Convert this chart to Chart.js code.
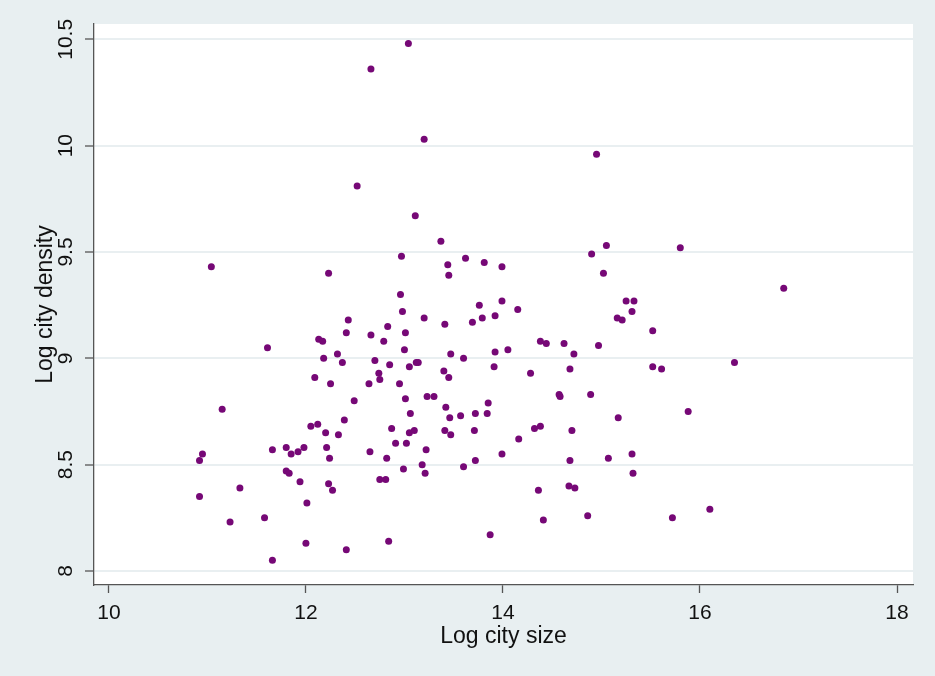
<!DOCTYPE html>
<html>
<head>
<meta charset="utf-8">
<script src="https://cdn.jsdelivr.net/npm/chart.js@4.4.1/dist/chart.umd.min.js"></script>
<style>
  html, body { margin: 0; padding: 0; background: #e8eff1; }
  #wrap { width: 935px; height: 676px; }
</style>
</head>
<body>
<div id="wrap"><canvas id="scatter" width="935" height="676"></canvas></div>
<script>
// log city size (x) and log city density (y)
const citySize = [
  13.04, 12.66, 13.20, 12.52, 13.11, 11.04, 12.23, 12.43, 12.41, 12.66,
  12.13, 12.17, 11.61, 12.18, 12.32, 12.37, 12.70, 12.74, 12.75, 12.09,
  12.25, 12.64, 12.49, 11.15, 12.39, 12.05, 12.12, 12.20, 12.33, 11.66,
  11.80, 11.85, 11.92, 11.98, 12.21, 12.24, 12.65, 10.95, 10.92, 11.80,
  11.83, 11.94, 12.23, 12.27, 12.75, 12.81, 10.92, 11.33, 12.01, 11.23,
  11.58, 12.00, 12.41, 11.66, 13.37, 12.97, 13.44, 13.62, 13.81, 13.99,
  13.45, 12.96, 13.76, 13.99, 14.15, 12.98, 13.20, 13.79, 13.92, 13.69,
  13.41, 12.83, 13.01, 12.79, 13.00, 13.47, 13.60, 13.92, 14.05, 14.38,
  14.44, 14.62, 14.72, 14.68, 14.28, 13.91, 13.40, 13.45, 12.85, 13.05,
  13.12, 13.14, 12.95, 13.01, 13.06, 13.23, 13.30, 13.42, 13.46, 13.57,
  13.72, 13.85, 13.84, 14.57, 14.58, 12.87, 13.05, 13.10, 13.41, 13.47,
  13.71, 14.32, 14.38, 14.70, 12.91, 13.02, 13.22, 14.16, 12.82, 13.99,
  13.72, 14.68, 12.99, 13.18, 13.21, 13.60, 14.36, 14.67, 14.73, 14.41,
  13.87, 12.84, 14.95, 15.05, 14.90, 15.80, 15.02, 16.85, 15.25, 15.33,
  15.31, 15.16, 15.21, 15.52, 14.97, 16.35, 15.52, 15.61, 14.89, 15.88,
  15.17, 15.07, 15.31, 15.32, 14.86, 15.72, 16.10
];
const cityDensity = [
  10.48, 10.36, 10.03, 9.81, 9.67, 9.43, 9.40, 9.18, 9.12, 9.11,
  9.09, 9.08, 9.05, 9.00, 9.02, 8.98, 8.99, 8.93, 8.90, 8.91,
  8.88, 8.88, 8.80, 8.76, 8.71, 8.68, 8.69, 8.65, 8.64, 8.57,
  8.58, 8.55, 8.56, 8.58, 8.58, 8.53, 8.56, 8.55, 8.52, 8.47,
  8.46, 8.42, 8.41, 8.38, 8.43, 8.43, 8.35, 8.39, 8.32, 8.23,
  8.25, 8.13, 8.10, 8.05, 9.55, 9.48, 9.44, 9.47, 9.45, 9.43,
  9.39, 9.30, 9.25, 9.27, 9.23, 9.22, 9.19, 9.19, 9.20, 9.17,
  9.16, 9.15, 9.12, 9.08, 9.04, 9.02, 9.00, 9.03, 9.04, 9.08,
  9.07, 9.07, 9.02, 8.95, 8.93, 8.96, 8.94, 8.91, 8.97, 8.96,
  8.98, 8.98, 8.88, 8.81, 8.74, 8.82, 8.82, 8.77, 8.72, 8.73,
  8.74, 8.79, 8.74, 8.83, 8.82, 8.67, 8.65, 8.66, 8.66, 8.64,
  8.66, 8.67, 8.68, 8.66, 8.60, 8.60, 8.57, 8.62, 8.53, 8.55,
  8.52, 8.52, 8.48, 8.50, 8.46, 8.49, 8.38, 8.40, 8.39, 8.24,
  8.17, 8.14, 9.96, 9.53, 9.49, 9.52, 9.40, 9.33, 9.27, 9.27,
  9.22, 9.19, 9.18, 9.13, 9.06, 8.98, 8.96, 8.95, 8.83, 8.75,
  8.72, 8.53, 8.55, 8.46, 8.26, 8.25, 8.29
];
const xTicks = [10, 12, 14, 16, 18];
const yTicks = [8, 8.5, 9, 9.5, 10, 10.5];
const yTickLabels = ['8', '8.5', '9', '9.5', '10', '10.5'];

const FONT = '"Liberation Sans", Arial, Helvetica, sans-serif';

const points = citySize.map((x, i) => ({ x: x, y: cityDensity[i] }));

// grey page, white plot region, rotated y tick labels (stata style)
const stataLook = {
  id: 'stataLook',
  beforeDraw(chart) {
    const ctx = chart.ctx, a = chart.chartArea;
    ctx.save();
    ctx.fillStyle = '#e8eff1';
    ctx.fillRect(0, 0, chart.width, chart.height);
    ctx.fillStyle = '#ffffff';
    ctx.fillRect(a.left, a.top, a.right - a.left, a.bottom - a.top);
    ctx.restore();
  },
  afterDraw(chart) {
    const ctx = chart.ctx, ys = chart.scales.y;
    ctx.save();
    ctx.font = '21px ' + FONT;
    ctx.fillStyle = '#111';
    ctx.textAlign = 'center';
    ctx.textBaseline = 'middle';
    yTicks.forEach((v, i) => {
      ctx.save();
      ctx.translate(66, ys.getPixelForValue(v));
      ctx.rotate(-Math.PI / 2);
      ctx.fillText(yTickLabels[i], 0, 0);
      ctx.restore();
    });
    ctx.restore();
  }
};

const ctx = document.getElementById('scatter').getContext('2d');
const chart = new Chart(ctx, {
  type: 'scatter',
  data: {
    datasets: [{
      label: 'Log city density',
      data: points,
      backgroundColor: 'rgb(118, 8, 118)',
      borderWidth: 0,
      pointRadius: 3.5,
      pointHoverRadius: 3.5
    }]
  },
  options: {
    responsive: false,
    animation: false,
    devicePixelRatio: 1,
    layout: { padding: { left: 0, top: 24, right: 22, bottom: 0 } },
    plugins: {
      legend: { display: false },
      tooltip: { enabled: false }
    },
    scales: {
      x: {
        type: 'linear',
        min: 9.849,
        max: 18.162,
        afterBuildTicks(scale) { scale.ticks = xTicks.map(v => ({ value: v })); },
        afterFit(scale) { scale.height = 91; },
        ticks: {
          color: '#111',
          padding: 8,
          font: { family: FONT, size: 21 },
          callback: v => String(v)
        },
        grid: { drawOnChartArea: false, tickLength: 8, tickColor: '#555', tickWidth: 1.3 },
        border: { display: true, color: '#555', width: 1.3 },
        title: {
          display: true,
          text: 'Log city size',
          color: '#111',
          font: { family: FONT, size: 23 },
          padding: { top: 0, bottom: 26 }
        }
      },
      y: {
        type: 'linear',
        min: 7.934,
        max: 10.572,
        afterBuildTicks(scale) { scale.ticks = yTicks.map(v => ({ value: v })); },
        afterFit(scale) { scale.width = 94; },
        ticks: { display: false },
        grid: { color: '#e9eff1', lineWidth: 2, tickLength: 9, tickColor: '#555', tickWidth: 1.3 },
        border: { display: true, color: '#555', width: 1.3 },
        title: {
          display: true,
          text: 'Log city density',
          color: '#111',
          font: { family: FONT, size: 23 },
          padding: { top: 32, bottom: 0 }
        }
      }
    }
  },
  plugins: [stataLook]
});
</script>
</body>
</html>
